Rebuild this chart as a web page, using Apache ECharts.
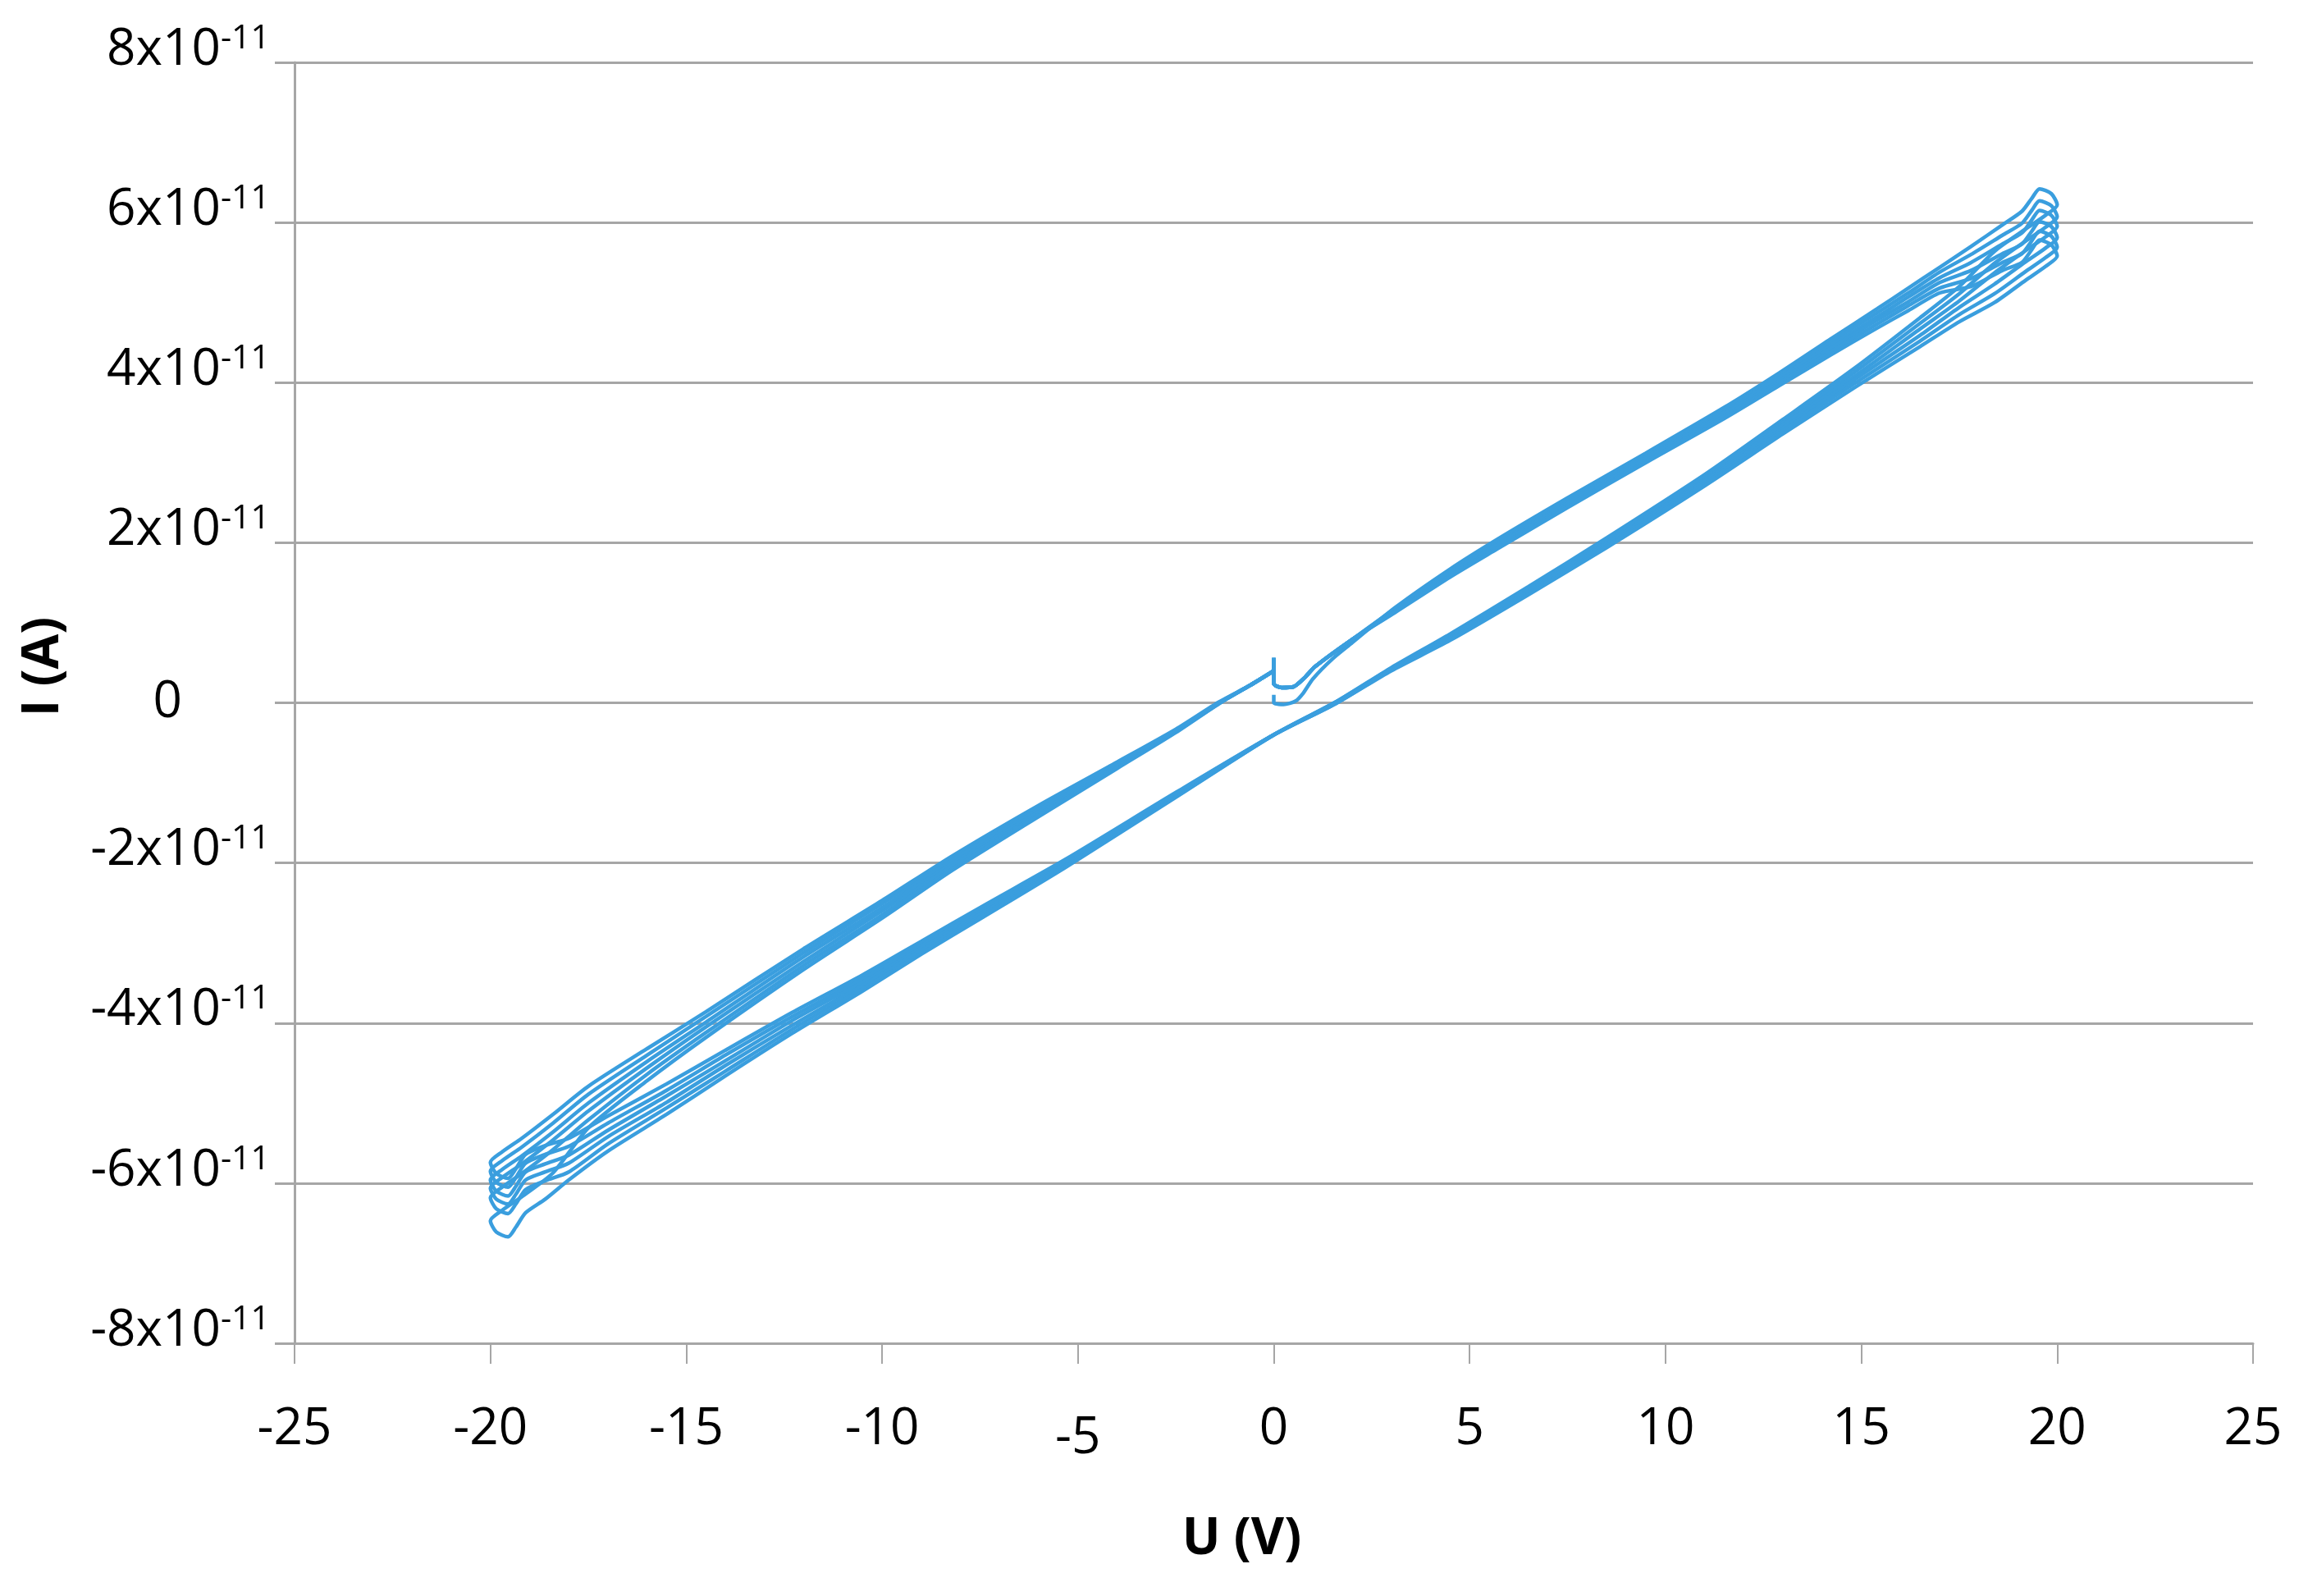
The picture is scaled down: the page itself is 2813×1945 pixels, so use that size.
<!DOCTYPE html>
<html>
<head>
<meta charset="UTF-8">
<script src="https://cdn.jsdelivr.net/npm/echarts@6.0.0/dist/echarts.min.js"></script>
<style>
html, body { margin: 0; padding: 0; background: #fff; }
#main { width: 2813px; height: 1945px; }
</style>
</head>
<body>
<div id="main"></div>
<script type="text/javascript">
// x ticks (V) and y ticks (units of 1e-11 A)
var xTicks = [-25, -20, -15, -10, -5, 0, 5, 10, 15, 20, 25];
var yTicks = [-8, -6, -4, -2, 0, 2, 4, 6, 8];

// [U (V), I (x1e-11 A)], one array per sweep cycle
var cycle1 = [[0,0.10],[0,0.00],[0.25,-0.02],[0.55,0.02],[0.75,0.12],[1.0,0.30],[1.5,0.55],[2.0,0.75],
  [3.1,1.19],[4.5,1.67],[5.7,2.04],[7.5,2.56],[9.5,3.12],[11.5,3.69],[12.9,4.12],[14.2,4.54],[15.4,4.92],[16.2,5.18],[17.0,5.44],[17.8,5.70],
  [18.6,5.97],[19.1,6.14],[19.35,6.30],[19.55,6.42],[19.85,6.36],[20.0,6.22],[19.7,6.09],[19.2,5.92],[18.4,5.64],
  [17.5,5.20],[16.5,4.81],[14.8,4.17],[13.0,3.54],[11.0,2.85],[8.5,2.06],[6.5,1.45],[4.5,0.86],[3.0,0.44],[1.58,0.01],[0,-0.40],
  [-2.5,-1.18],[-5.3,-2.05],[-7.4,-2.67],[-9.0,-3.14],[-10.5,-3.60],[-12.3,-4.13],[-14.0,-4.66],[-15.5,-5.14],[-17.0,-5.60],[-18.0,-5.96],
  [-18.6,-6.20],[-19.1,-6.37],[-19.35,-6.55],[-19.55,-6.67],[-19.85,-6.61],[-20.0,-6.47],[-19.7,-6.34],[-19.2,-6.17],[-18.4,-5.87],
  [-17.5,-5.31],[-16.0,-4.72],[-14.5,-4.18],[-12.0,-3.33],[-10.0,-2.69],[-8.2,-2.09],[-6.0,-1.42],[-4.0,-0.82],[-2.5,-0.37],[-1.4,-0.01],[-0.6,0.22],[0,0.40]];

var cycle2 = [[0,0.56],[0,0.24],[0.2,0.19],[0.5,0.20],[0.8,0.32],[1.05,0.45],[2.0,0.79],
  [3.1,1.18],[4.5,1.65],[5.7,2.02],[7.5,2.54],[9.5,3.10],[11.5,3.66],[12.9,4.09],[14.2,4.50],[15.4,4.87],[16.2,5.12],[17.0,5.38],[17.8,5.60],
  [18.6,5.84],[19.1,5.99],[19.35,6.15],[19.55,6.27],[19.85,6.21],[20.0,6.07],[19.7,5.94],[19.2,5.77],[18.4,5.49],
  [17.5,5.11],[16.5,4.74],[14.8,4.12],[13.0,3.50],[11.0,2.82],[8.5,2.04],[6.5,1.43],[4.5,0.84],[3.0,0.43],[1.58,0.01],[0,-0.40],
  [-2.5,-1.17],[-5.3,-2.03],[-7.4,-2.64],[-9.0,-3.11],[-10.5,-3.56],[-12.3,-4.08],[-14.0,-4.60],[-15.5,-5.06],[-17.0,-5.51],[-18.0,-5.86],
  [-18.6,-5.97],[-19.1,-6.08],[-19.35,-6.26],[-19.55,-6.38],[-19.85,-6.32],[-20.0,-6.18],[-19.7,-6.05],[-19.2,-5.88],[-18.4,-5.58],
  [-17.5,-5.21],[-16.0,-4.64],[-14.5,-4.12],[-12.0,-3.28],[-10.0,-2.65],[-8.2,-2.05],[-6.0,-1.39],[-4.0,-0.80],[-2.5,-0.36],[-1.4,-0.01],[-0.6,0.22],[0,0.40]];

var cycle3 = [[0,0.56],[0,0.24],[0.2,0.19],[0.5,0.20],[0.8,0.32],[1.05,0.45],[2.0,0.79],
  [3.1,1.17],[4.5,1.63],[5.7,1.99],[7.5,2.51],[9.5,3.07],[11.5,3.63],[12.9,4.06],[14.2,4.46],[15.4,4.82],[16.2,5.07],[17.0,5.31],[17.8,5.50],
  [18.6,5.73],[19.1,5.87],[19.35,6.03],[19.55,6.15],[19.85,6.09],[20.0,5.95],[19.7,5.82],[19.2,5.65],[18.4,5.37],
  [17.5,5.02],[16.5,4.67],[14.8,4.07],[13.0,3.47],[11.0,2.79],[8.5,2.01],[6.5,1.41],[4.5,0.83],[3.0,0.42],[1.58,0.00],[0,-0.40],
  [-2.5,-1.16],[-5.3,-2.01],[-7.4,-2.61],[-9.0,-3.08],[-10.5,-3.52],[-12.3,-4.03],[-14.0,-4.53],[-15.5,-4.99],[-17.0,-5.42],[-18.0,-5.75],
  [-18.6,-5.86],[-19.1,-5.96],[-19.35,-6.14],[-19.55,-6.26],[-19.85,-6.20],[-20.0,-6.06],[-19.7,-5.93],[-19.2,-5.76],[-18.4,-5.46],
  [-17.5,-5.10],[-16.0,-4.56],[-14.5,-4.05],[-12.0,-3.23],[-10.0,-2.60],[-8.2,-2.02],[-6.0,-1.36],[-4.0,-0.79],[-2.5,-0.35],[-1.4,0.00],[-0.6,0.22],[0,0.40]];

var cycle4 = [[0,0.56],[0,0.24],[0.2,0.19],[0.5,0.20],[0.8,0.32],[1.05,0.45],[2.0,0.79],
  [3.1,1.15],[4.5,1.61],[5.7,1.97],[7.5,2.49],[9.5,3.05],[11.5,3.61],[12.9,4.02],[14.2,4.42],[15.4,4.78],[16.2,5.01],[17.0,5.25],[17.8,5.40],
  [18.6,5.61],[19.1,5.73],[19.35,5.89],[19.55,6.01],[19.85,5.95],[20.0,5.81],[19.7,5.68],[19.2,5.51],[18.4,5.23],
  [17.5,4.94],[16.5,4.59],[14.8,4.03],[13.0,3.43],[11.0,2.77],[8.5,1.99],[6.5,1.39],[4.5,0.81],[3.0,0.42],[1.58,0.00],[0,-0.40],
  [-2.5,-1.14],[-5.3,-1.99],[-7.4,-2.59],[-9.0,-3.04],[-10.5,-3.48],[-12.3,-3.97],[-14.0,-4.47],[-15.5,-4.91],[-17.0,-5.34],[-18.0,-5.65],
  [-18.6,-5.76],[-19.1,-5.86],[-19.35,-6.04],[-19.55,-6.16],[-19.85,-6.10],[-20.0,-5.96],[-19.7,-5.83],[-19.2,-5.66],[-18.4,-5.36],
  [-17.5,-5.00],[-16.0,-4.48],[-14.5,-3.99],[-12.0,-3.17],[-10.0,-2.56],[-8.2,-1.98],[-6.0,-1.34],[-4.0,-0.77],[-2.5,-0.35],[-1.4,0.00],[-0.6,0.22],[0,0.40]];

var cycle5 = [[0,0.56],[0,0.24],[0.2,0.19],[0.5,0.20],[0.8,0.32],[1.05,0.45],[2.0,0.79],
  [3.1,1.14],[4.5,1.59],[5.7,1.94],[7.5,2.46],[9.5,3.02],[11.5,3.58],[12.9,3.99],[14.2,4.38],[15.4,4.73],[16.2,4.96],[17.0,5.18],[17.8,5.30],
  [18.6,5.50],[19.1,5.61],[19.35,5.77],[19.55,5.89],[19.85,5.83],[20.0,5.69],[19.7,5.56],[19.2,5.39],[18.4,5.11],
  [17.5,4.85],[16.5,4.52],[14.8,3.98],[13.0,3.40],[11.0,2.74],[8.5,1.96],[6.5,1.37],[4.5,0.80],[3.0,0.41],[1.58,-0.01],[0,-0.40],
  [-2.5,-1.13],[-5.3,-1.97],[-7.4,-2.56],[-9.0,-3.01],[-10.5,-3.44],[-12.3,-3.92],[-14.0,-4.40],[-15.5,-4.84],[-17.0,-5.25],[-18.0,-5.54],
  [-18.6,-5.64],[-19.1,-5.75],[-19.35,-5.93],[-19.55,-6.05],[-19.85,-5.99],[-20.0,-5.85],[-19.7,-5.72],[-19.2,-5.55],[-18.4,-5.25],
  [-17.5,-4.89],[-16.0,-4.40],[-14.5,-3.92],[-12.0,-3.12],[-10.0,-2.51],[-8.2,-1.95],[-6.0,-1.31],[-4.0,-0.76],[-2.5,-0.34],[-1.4,0.00],[-0.6,0.22],[0,0.40]];

var cycle6 = [[0,0.56],[0,0.24],[0.2,0.19],[0.5,0.20],[0.8,0.32],[1.05,0.45],[2.0,0.79],
  [3.1,1.13],[4.5,1.57],[5.7,1.92],[7.5,2.44],[9.5,3.00],[11.5,3.55],[12.9,3.96],[14.2,4.34],[15.4,4.68],[16.2,4.90],[17.0,5.12],[17.8,5.20],
  [18.6,5.40],[19.1,5.50],[19.35,5.66],[19.55,5.78],[19.85,5.72],[20.0,5.58],[19.7,5.45],[19.2,5.28],[18.4,5.00],
  [17.5,4.76],[16.5,4.45],[14.8,3.93],[13.0,3.36],[11.0,2.71],[8.5,1.94],[6.5,1.35],[4.5,0.78],[3.0,0.40],[1.58,-0.01],[0,-0.40],
  [-2.5,-1.12],[-5.3,-1.95],[-7.4,-2.53],[-9.0,-2.98],[-10.5,-3.40],[-12.3,-3.87],[-14.0,-4.34],[-15.5,-4.76],[-17.0,-5.16],[-18.0,-5.44],
  [-18.6,-5.53],[-19.1,-5.64],[-19.35,-5.82],[-19.55,-5.94],[-19.85,-5.88],[-20.0,-5.74],[-19.7,-5.61],[-19.2,-5.44],[-18.4,-5.14],
  [-17.5,-4.79],[-16.0,-4.32],[-14.5,-3.86],[-12.0,-3.07],[-10.0,-2.47],[-8.2,-1.91],[-6.0,-1.28],[-4.0,-0.74],[-2.5,-0.33],[-1.4,0.01],[-0.6,0.22],[0,0.40]];

var cycles = [cycle1, cycle2, cycle3, cycle4, cycle5, cycle6];

var lineColor = '#3a9ede';
var gridColor = '#a6a6a6';
var font = 'Open Sans';

var myChart = echarts.init(document.getElementById('main'));

var option = {
    animation: false,
    backgroundColor: '#fff',
    textStyle: { fontFamily: font },
    grid: { left: 359, right: 67, top: 76, bottom: 308, containLabel: false },
    xAxis: {
        type: 'value',
        min: xTicks[0],
        max: xTicks[xTicks.length - 1],
        interval: 5,
        name: 'U (V)',
        nameLocation: 'middle',
        nameGap: 208,
        nameTextStyle: { fontSize: 62, fontWeight: 'bold', color: '#000', fontFamily: font, padding: [0, 78, 0, 0] },
        axisLine: { onZero: false, lineStyle: { color: gridColor, width: 3 } },
        axisTick: { show: true, inside: false, length: 25, lineStyle: { color: gridColor, width: 2 } },
        axisLabel: {
            fontSize: 62, lineHeight: 62, color: '#000', fontFamily: font, margin: 74,
            // the -5 label sits a little lower in the original
            formatter: function (v) { return v === -5 ? '{d|-5}' : '{n|' + v + '}'; },
            rich: {
                n: { fontSize: 62, lineHeight: 62, fontFamily: font, color: '#000' },
                d: { fontSize: 62, lineHeight: 62, padding: [22, 0, 0, 0], fontFamily: font, color: '#000' }
            }
        },
        splitLine: { show: false }
    },
    yAxis: {
        type: 'value',
        min: yTicks[0],
        max: yTicks[yTicks.length - 1],
        interval: 2,
        name: 'I (A)',
        nameLocation: 'middle',
        nameRotate: 90,
        nameGap: 275,
        nameTextStyle: { fontSize: 62, fontWeight: 'bold', color: '#000', fontFamily: font, padding: [0, 0, 0, 88] },
        axisLine: { show: true, onZero: false, lineStyle: { color: gridColor, width: 3 } },
        axisTick: { show: true, inside: false, length: 24, lineStyle: { color: gridColor, width: 3 } },
        axisLabel: {
            margin: 30,
            color: '#000',
            fontFamily: font,
            formatter: function (v) {
                if (v === 0) return '{z|0}';
                return '{b|' + v + 'x10}{s|-11}';
            },
            rich: {
                // base text sits in the upper part of a 92px line, exponent above it
                b: { fontSize: 62, height: 62, lineHeight: 92, verticalAlign: 'top', fontFamily: font, color: '#000' },
                s: { fontSize: 41, height: 34, lineHeight: 34, verticalAlign: 'top', fontFamily: font, color: '#000' },
                z: { fontSize: 62, lineHeight: 62, padding: [0, 107, 0, 0], fontFamily: font, color: '#000' }
            }
        },
        splitLine: { show: true, lineStyle: { color: gridColor, width: 3 } }
    },
    series: cycles.map(function (c, i) {
        return {
            name: 'cycle ' + (i + 1),
            type: 'line',
            data: c,
            showSymbol: false,
            symbol: 'none',
            smooth: 0.25,
            lineStyle: { color: lineColor, width: 4.5 }
        };
    })
};

myChart.setOption(option);
</script>
</body>
</html>
